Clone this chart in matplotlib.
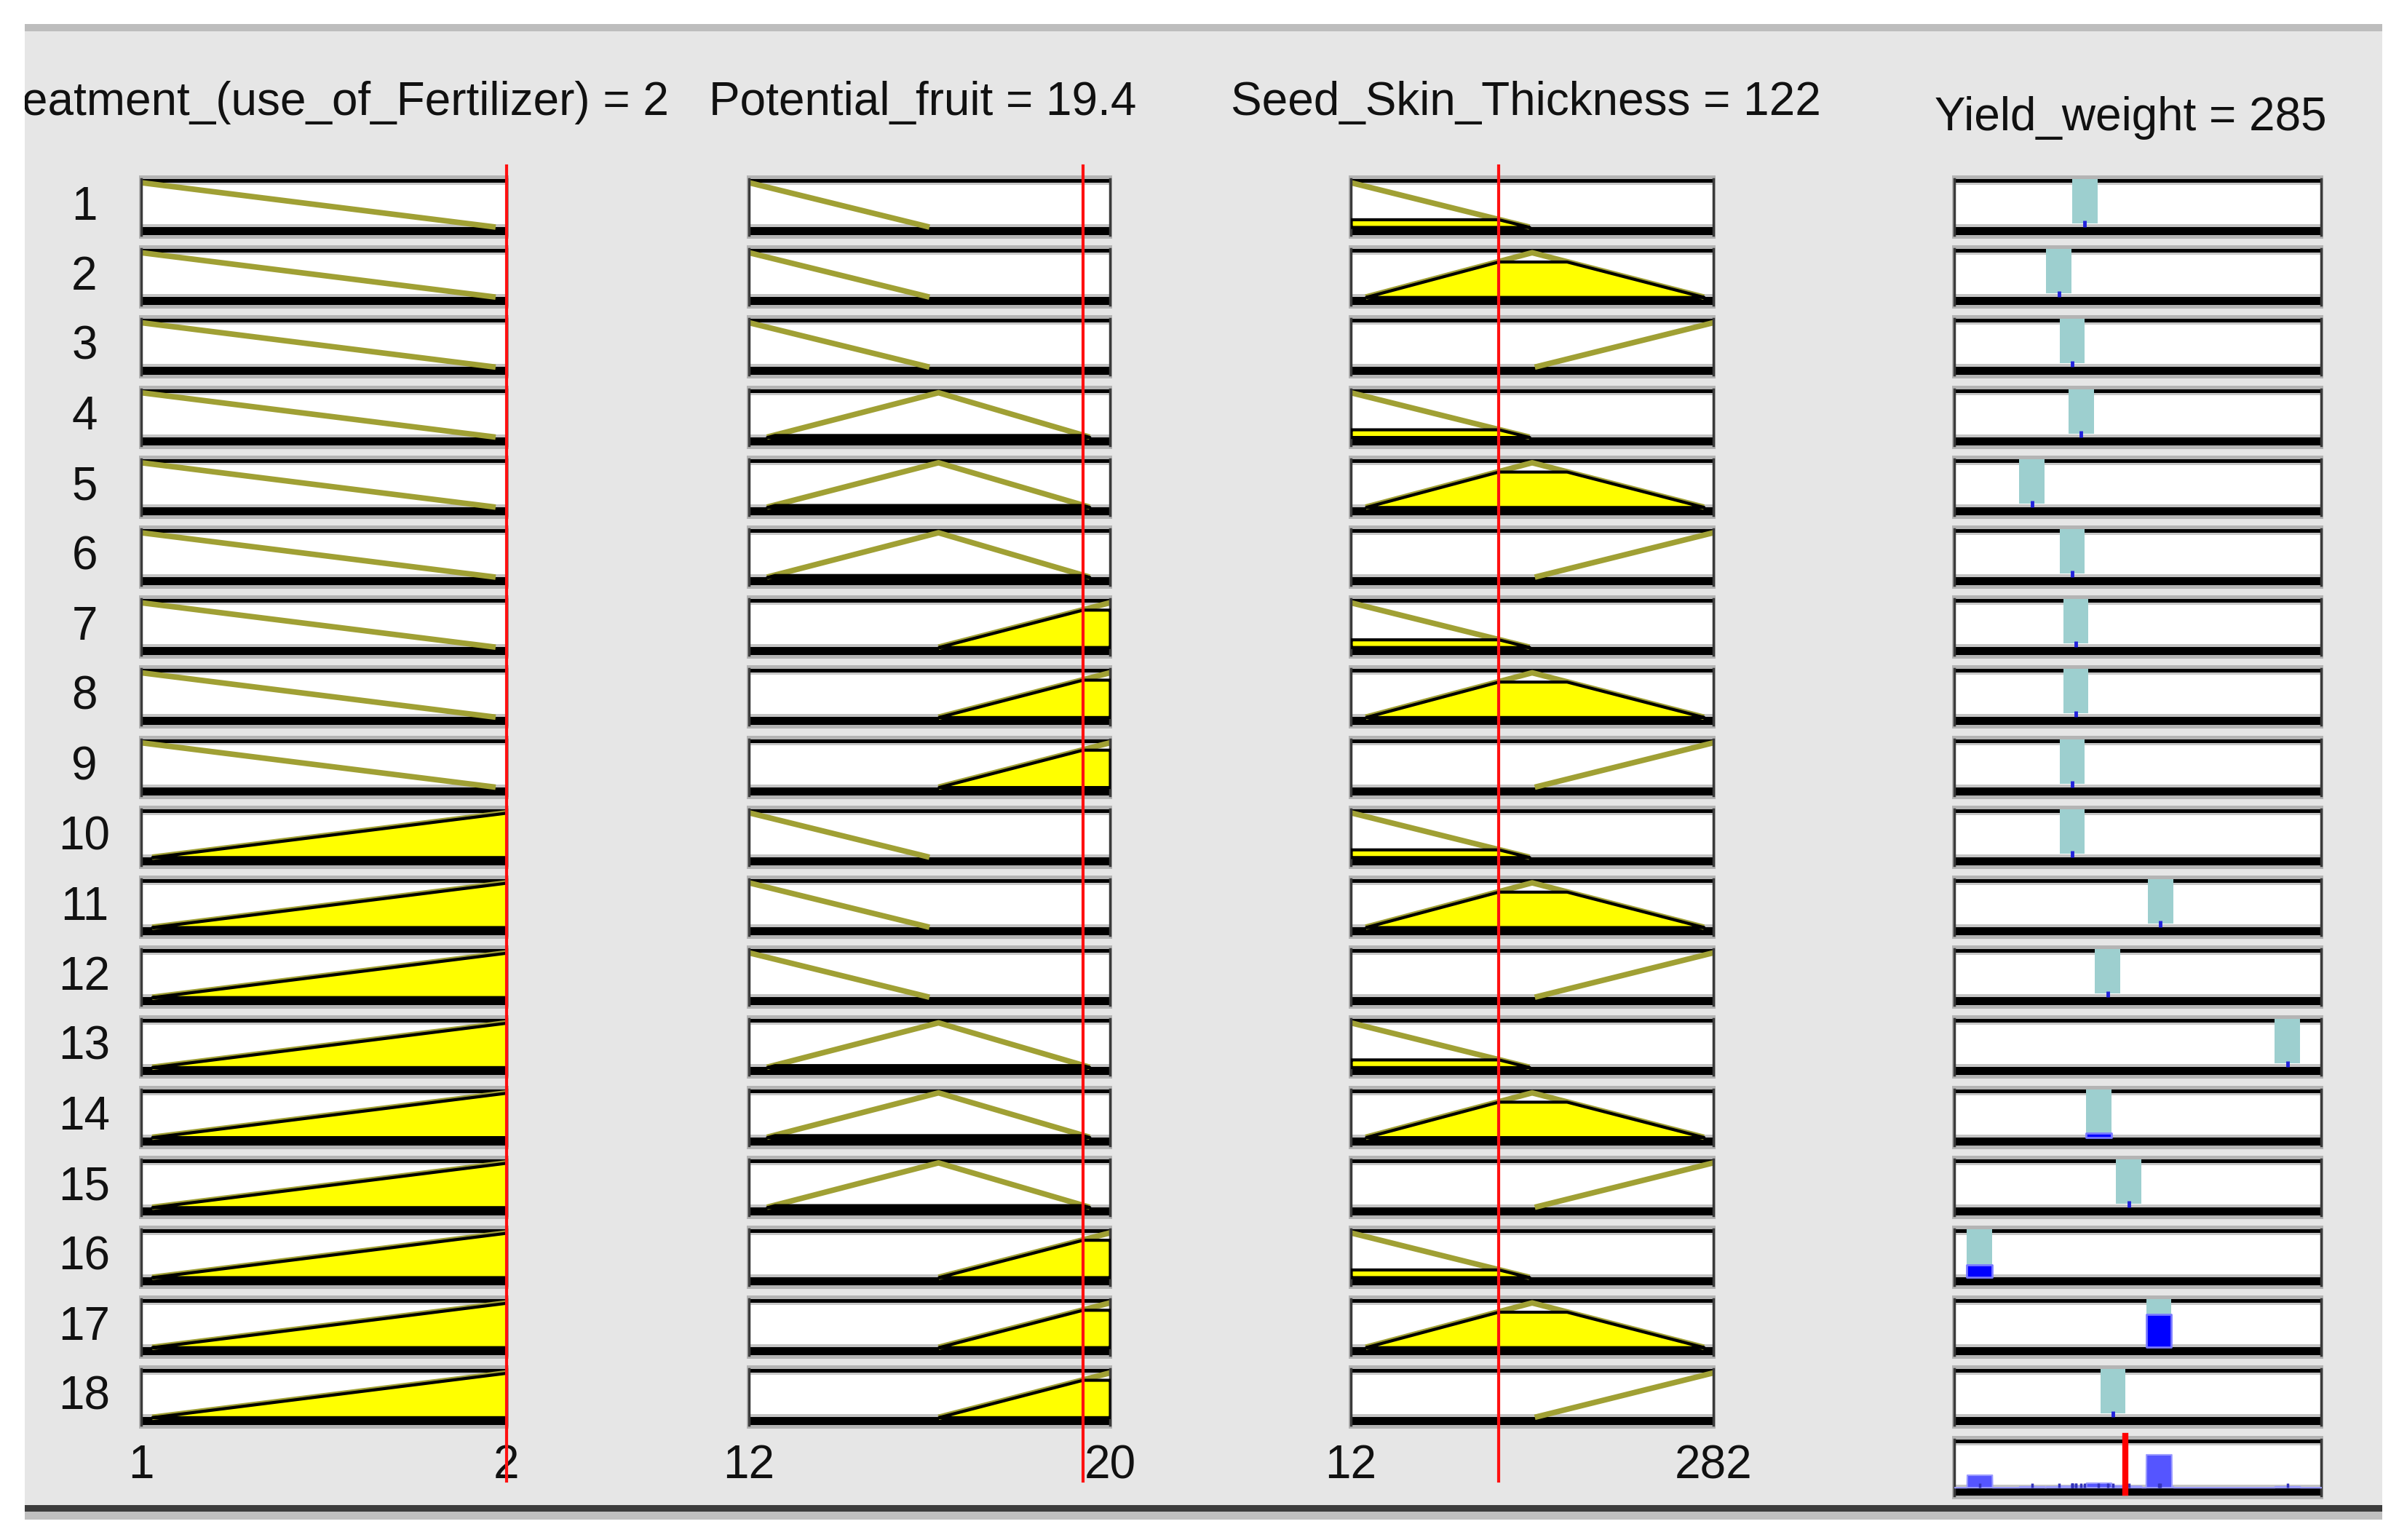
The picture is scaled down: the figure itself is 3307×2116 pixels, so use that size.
import numpy as np
import matplotlib.pyplot as plt
from matplotlib.patches import Rectangle
from matplotlib.transforms import blended_transform_factory

W, H = 3307, 2116

input_names = ["Treatment_(use_of_Fertilizer)", "Potential_fruit", "Seed_Skin_Thickness"]
input_values = [2, 19.4, 122]
input_labels = ["2", "19.4", "122"]
input_ranges = [(1, 2), (12, 20), (12, 282)]

# membership functions: name -> (x vertices, y vertices)
treatment_mfs = {"low": ([1, 1.97], [1, 0]),
                 "high": ([1.03, 2], [0, 1])}
fruit_mfs = {"low": ([12, 16], [1, 0]),
             "medium": ([12.4, 16.2, 19.55], [0, 1, 0]),
             "high": ([16.2, 20], [0, 1])}
skin_mfs = {"low": ([12, 145], [1, 0]),
            "medium": ([23, 147, 275], [0, 1, 0]),
            "high": ([149, 282], [0, 1])}

rule_treatment = ["low", "low", "low", "low", "low", "low", "low", "low", "low",
                  "high", "high", "high", "high", "high", "high", "high", "high", "high"]
rule_fruit = ["low", "low", "low", "medium", "medium", "medium", "high", "high", "high",
              "low", "low", "low", "medium", "medium", "medium", "high", "high", "high"]
rule_skin = ["low", "medium", "high", "low", "medium", "high", "low", "medium", "high",
             "low", "medium", "high", "low", "medium", "high", "low", "medium", "high"]

output_name = "Yield_weight"
output_value = 285
output_range = (0, 610)
output_width = 42
output_centers = [217, 174, 196, 211, 129, 196, 202, 202, 196, 196,
                  343, 255, 554, 240, 290, 42, 340, 264]
rule_strength = [0.02, 0.02, 0.03, 0.02, 0.02, 0.03, 0.02, 0.02, 0.03, 0.03,
                 0.02, 0.04, 0.02, 0.10, 0.03, 0.28, 0.74, 0.04]

# ---- layout (pixels) ----
col_x = [(194, 696), (1029, 1525), (1856, 2354), (2685, 3189)]
title_x = [445, 1268, 2096, 2927]
row_top, row_pitch, box_h = 246, 96.2, 77
top_bar, bot_bar = 5, 11
inner = box_h - top_bar - bot_bar
ylo, yhi = -bot_bar / inner, 1 + top_bar / inner

MF_COLOR = "#a0a034"
YELLOW = "#ffff00"
CYAN = "#9dcfcf"
BG = "#e6e6e6"
FONT = ["Liberation Sans", "DejaVu Sans"]
FS = 46


def rect(x0, y0, x1, y1):
    return [x0 / W, 1 - y1 / H, (x1 - x0) / W, (y1 - y0) / H]


fig = plt.figure(figsize=(W / 100, H / 100), dpi=100)
fig.patch.set_facecolor("white")

# window panel
fig.add_artist(Rectangle((34 / W, 1 - 2068 / H), (3273 - 34) / W, (2068 - 40) / H,
                         transform=fig.transFigure, fc=BG, ec="none", zorder=-3))
fig.add_artist(Rectangle((34 / W, 1 - 43 / H), (3273 - 34) / W, 10 / H,
                         transform=fig.transFigure, fc="#bdbdbd", ec="none", zorder=-3))
fig.add_artist(Rectangle((34 / W, 1 - 2077 / H), (3273 - 34) / W, 9 / H,
                         transform=fig.transFigure, fc="#3c3c3c", ec="none", zorder=-3))
fig.add_artist(Rectangle((34 / W, 1 - 2088 / H), (3273 - 34) / W, 11 / H,
                         transform=fig.transFigure, fc="#c0c0c0", ec="none", zorder=-3))


def make_box(ci, ri):
    x0, x1 = col_x[ci]
    y0 = row_top + ri * row_pitch
    y1 = y0 + box_h
    fig.add_artist(Rectangle(((x0 - 3) / W, 1 - (y1 + 5) / H), (x1 - x0 + 6) / W,
                             (box_h + 10) / H, transform=fig.transFigure,
                             fc="#b4b4b4", ec="none", zorder=-1))
    ax = fig.add_axes(rect(x0, y0, x1, y1))
    ax.set_facecolor("white")
    ax.set_ylim(ylo, yhi)
    ax.set_xticks([])
    ax.set_yticks([])
    for side in ("top", "bottom"):
        ax.spines[side].set_visible(False)
    for side in ("left", "right"):
        ax.spines[side].set_color("#3a3a3a")
        ax.spines[side].set_linewidth(2.5)
    ax.add_patch(Rectangle((0, 0), 1, bot_bar / box_h, transform=ax.transAxes,
                           fc="black", ec="none", zorder=1.5))
    ax.add_patch(Rectangle((0, bot_bar / box_h), 1, 4 / box_h, transform=ax.transAxes,
                           fc="#c4c4c4", ec="none", zorder=1.2))
    ax.add_patch(Rectangle((0, 1 - top_bar / box_h), 1, top_bar / box_h,
                           transform=ax.transAxes, fc="black", ec="none", zorder=1.5))
    ax.add_patch(Rectangle((0, 1 - (top_bar + 3) / box_h), 1, 3 / box_h,
                           transform=ax.transAxes, fc="#c8c8c8", ec="none", zorder=1.2))
    return ax


# ---- input columns ----
mf_sets = [treatment_mfs, fruit_mfs, skin_mfs]
rule_terms = [rule_treatment, rule_fruit, rule_skin]

for ci in range(3):
    lo, hi = input_ranges[ci]
    grid = np.linspace(lo, hi, 600)
    for ri in range(len(rule_treatment)):
        ax = make_box(ci, ri)
        ax.set_xlim(lo, hi)
        xs, ys = mf_sets[ci][rule_terms[ci][ri]]
        mu = np.interp(grid, xs, ys, left=0, right=0)
        deg = np.interp(input_values[ci], xs, ys, left=0, right=0)
        ax.plot(xs, ys, color=MF_COLOR, lw=5.5, zorder=2, solid_capstyle="butt")
        if deg > 0:
            ax.fill_between(grid, 0, np.minimum(mu, deg), where=mu > 0,
                            facecolor=YELLOW, edgecolor="black", lw=3, zorder=3)

    # red input line and range labels
    x0, x1 = col_x[ci]
    ov = fig.add_axes(rect(x0, 228, x1, 2035), zorder=5)
    ov.patch.set_visible(False)
    ov.axis("off")
    ov.set_xlim(lo, hi)
    ov.set_ylim(0, 1)
    ov.axvline(input_values[ci], color="#ff1010", lw=3, clip_on=False)
    tr = blended_transform_factory(ov.transData, ov.transAxes)
    ty = (2035 - 2014) / (2035 - 228)
    for v in (lo, hi):
        ov.text(v, ty, f"{v:g}", transform=tr, ha="center", va="center",
                fontsize=FS, family=FONT, color="#111111", zorder=1)
    fig.text(title_x[ci] / W, 1 - 141 / H,
             f"{input_names[ci]} = {input_labels[ci]}", ha="center", va="center",
             fontsize=FS, family=FONT, color="#111111")

# ---- output column ----
olo, ohi = output_range
for ri, (c, s) in enumerate(zip(output_centers, rule_strength)):
    ax = make_box(3, ri)
    ax.set_xlim(olo, ohi)
    ax.axvspan(c - output_width / 2, c + output_width / 2,
               ymin=(bot_bar + 5) / box_h, ymax=1, color=CYAN, lw=0, zorder=3)
    if s >= 0.05:
        ax.fill_between([c - output_width / 2, c + output_width / 2], 0, s,
                        facecolor="#0000ff", edgecolor="#7a7aff", lw=2, zorder=4)
    else:
        ax.plot([c, c], [0, 0.14], color="#2222dd", lw=3.5, zorder=4,
                solid_capstyle="butt")

# aggregated output
agg_ax = make_box(3, len(output_centers))
agg_ax.set_xlim(olo, ohi)
ogrid = np.linspace(olo, ohi, 1500)
agg = np.zeros_like(ogrid)
for c, s in zip(output_centers, rule_strength):
    agg = np.maximum(agg, np.where(np.abs(ogrid - c) <= output_width / 2, s, 0))
agg_ax.fill_between(ogrid, 0, agg, facecolor="#5555ff", edgecolor="#9a9aff",
                    lw=1.5, zorder=3)
agg_ax.vlines(output_centers, 0, 0.09, color="#3333bb", lw=2.5, zorder=3)
agg_ax.axvline(output_value, ymin=0.05, ymax=1.06, color="#ff0000", lw=6,
               zorder=6, clip_on=False)

fig.text(title_x[3] / W, 1 - 162 / H, f"{output_name} = {output_value}",
         ha="center", va="center", fontsize=FS, family=FONT, color="#111111")

# row numbers
for ri in range(len(rule_treatment)):
    yc = row_top + ri * row_pitch + box_h / 2
    fig.text(116 / W, 1 - yc / H, str(ri + 1), ha="center", va="center",
             fontsize=FS, family=FONT, color="#111111")

# white margin that crops the first title, like the screenshot
fig.add_artist(Rectangle((0, 0), 34 / W, 1, transform=fig.transFigure,
                         fc="white", ec="none", zorder=20))

fig.savefig("out.png", dpi=100, facecolor="white")
